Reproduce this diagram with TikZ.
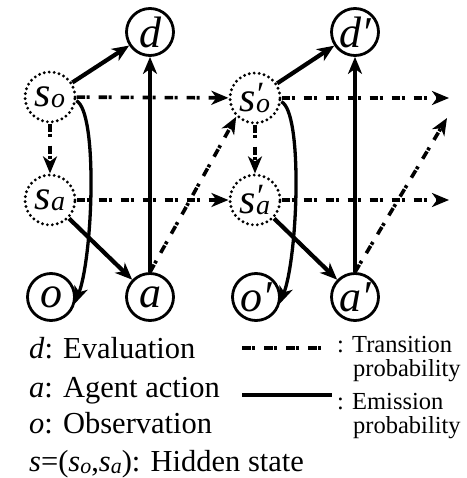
\documentclass[tikz,border=0pt]{standalone}
\usepackage{fontspec}
\setmainfont{Liberation Serif}
\usetikzlibrary{arrows.meta}
\newcommand\fsz[1]{\fontsize{#1}{#1}\selectfont}
\newcommand\subl[1]{\raisebox{-1pt}{\fsz{28}\textit{#1}}}
\newcommand\prm{\makebox[0pt][l]{\kern1pt\raisebox{6pt}{\fsz{34}\upshape ′}}}
\newcommand\legsub[1]{\raisebox{-2.5pt}{\fsz{22}\textit{#1}}}
\begin{document}
\begin{tikzpicture}[x=1pt,y=-1pt,
  obs/.style={circle, draw, line width=2.8pt, minimum size=47pt, inner sep=0pt, font=\fsz{44}\itshape},
  hid/.style={circle, draw, line width=3.2pt, dash pattern=on 0pt off 5pt, line cap=round, minimum size=50pt, inner sep=0pt, font=\fsz{42}\itshape},
  tip/.style={-{Stealth[length=17pt,width=14pt,inset=5pt]}},
  emis/.style={tip, line width=4.2pt},
  curv/.style={tip, line width=3.3pt},
  dd/.style={line width=3.6pt, dash pattern=on 8.5pt off 1.5pt on 3pt off 9pt},
  trans/.style={tip, dd},
  legl/.style={anchor=base west, inner sep=0pt, font=\fsz{30.5}},
  legr/.style={anchor=base west, inner sep=0pt, font=\fsz{24.5}},
]
\useasboundingbox (0,0) rectangle (466,478);
% observed nodes
\node[obs] (d)  at (150,32)  {d};
\node[obs] (dp) at (355,32)  {d′};
\node[obs] (o)  at (51,297)  {o};
\node[obs] (a)  at (150,297) {a};
\node[obs] (op) at (256,297) {o′};
\node[obs] (ap) at (355,297) {a′};
% hidden nodes
\node[hid] (so)  at (50,97)   {s\subl{o}};
\node[hid] (sa)  at (50,200)  {s\subl{a}};
\node[hid] (sop) at (255,98)  {s\prm\subl{o}};
\node[hid] (sap) at (255,200) {s\prm\subl{a}};
% free ends
\coordinate (eo) at (449,98);
\coordinate (ea) at (449,200);
\coordinate (ed) at (447,118);
% transitions
\draw[trans] (so) -- (sa);
\draw[trans] (so) -- (sop);
\draw[trans] (sa) -- (sap);
\draw[trans] (a.north) -- (sop.225);
\draw[trans] (sop) -- (sap);
\draw[trans] (sop) -- (eo);
\draw[trans] (sap) -- (ea);
\draw[trans] (ap.north) -- (ed);
% emissions
\draw[emis] (so) -- (d);
\draw[emis] (a) -- (d);
\draw[emis] (sa) -- (a);
\draw[curv] (so.-8) .. controls (98,112) and (93,255) .. (o.-15);
\draw[emis] (sop) -- (dp);
\draw[emis] (ap) -- (dp);
\draw[emis] (sap) -- (ap);
\draw[curv] (sop.-8) .. controls (303,112) and (298,255) .. (op.-15);
% legend
\node[legl] (l1) at (29,358) {\textit{d}: Evaluation};
\node[legl] (l2) at (29,397) {\textit{a}: Agent action};
\node[legl] (l3) at (29,433) {\textit{o}: Observation};
\node[legl] (l4) at (29,471) {\textit{s}=(\textit{s}\legsub{o},\textit{s}\legsub{a}): Hidden state};
\coordinate (t1) at (242,348);
\coordinate (t2) at (330,348);
\coordinate (e1) at (242,395);
\coordinate (e2) at (332,395);
\draw[dd] (t1) -- (t2);
\draw[line width=4.6pt] (e1) -- (e2);
\node[legr] (r1) at (337,352) {: Transition};
\node[legr] (r2) at (353,376) {probability};
\node[legr] (r3) at (337,409) {: Emission};
\node[legr] (r4) at (353,433) {probability};
\end{tikzpicture}
\end{document}
